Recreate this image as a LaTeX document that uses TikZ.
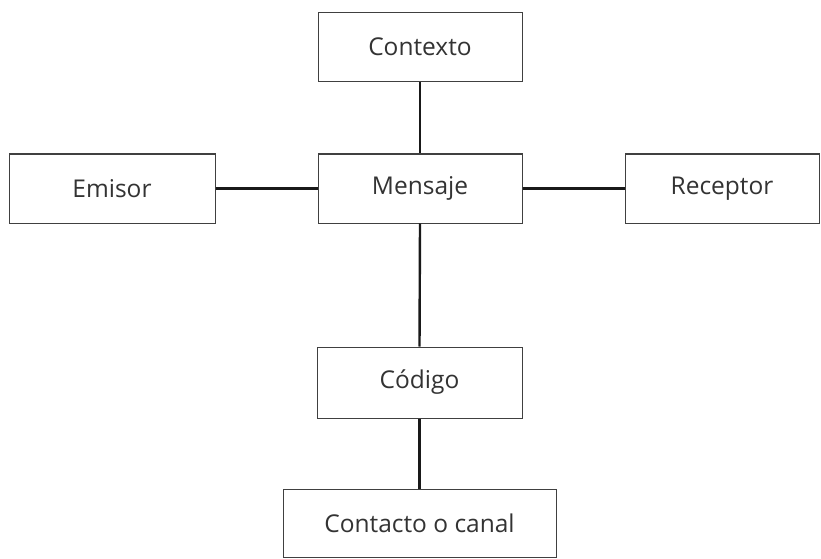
\documentclass[tikz,border=0pt]{standalone}
\usepackage{fontspec}
\setmainfont{Open Sans}
\begin{document}
\begin{tikzpicture}[x=1pt,y=1pt,
  box/.style={draw=black!75,line width=1pt,rectangle,inner sep=0pt,minimum height=69pt,font=\fontsize{24.5}{26}\selectfont\color{black!80}},
  link/.style={line width=2.4pt,black!90}]
\useasboundingbox (0,0) rectangle (821,558);
\node[box,minimum width=204pt] (ctx) at (420,511) {Contexto};
\node[box,minimum width=206pt] (emi) at (112,369.5) {Emisor};
\node[box,minimum width=204pt] (men) at (420,369.5) {Mensaje};
\node[box,minimum width=194pt] (rec) at (722,369.5) {Receptor};
\node[box,minimum width=205pt,minimum height=71pt] (cod) at (419.5,175.5) {Código};
\node[box,minimum width=273pt,minimum height=68pt] (con) at (419.5,35) {Contacto o canal};
\draw[link] (ctx.south) -- (men.north);
\draw[link] (emi.east) -- (men.west);
\draw[link] (men.east) -- (rec.west);
\draw[link] (men.south) -- (cod.north);
\draw[link] (cod.south) -- (con.north);
\end{tikzpicture}
\end{document}
